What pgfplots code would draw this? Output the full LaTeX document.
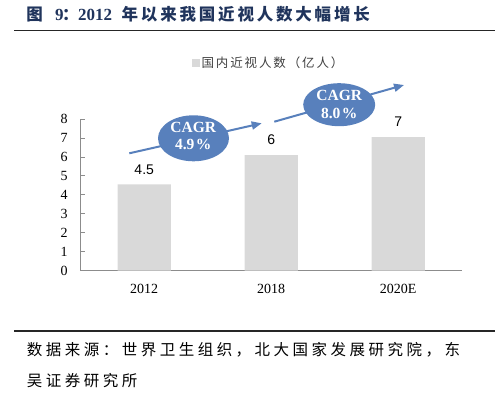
\documentclass[border=0pt]{standalone}
\usepackage{pgfplots}
\pgfplotsset{compat=1.18}
\usepackage{pgfplotstable}
\usepackage{fontspec}
\usetikzlibrary{arrows.meta}
\setmainfont{Liberation Serif}
\setsansfont{Liberation Sans}
\newfontfamily\cjk{Noto Sans CJK SC}
\newfontfamily\cjkt[LetterSpace=17]{Noto Sans CJK SC}
\newfontfamily\cjkf[LetterSpace=22.5]{Noto Sans CJK SC}
\newfontfamily\cjkl[LetterSpace=15]{Noto Sans CJK SC}
\definecolor{barg}{RGB}{217,217,217}
\definecolor{ellblue}{RGB}{88,128,188}
\definecolor{titleblue}{RGB}{32,52,92}
\definecolor{axgray}{RGB}{140,140,140}

\pgfplotstableread{
x y lab
0 4.55 4.5
1 6.10 6
2 7.05 7
}\datatable

\begin{document}
\begin{tikzpicture}[x=1bp,y=1bp]
\useasboundingbox (0bp,0bp) rectangle (500bp,398bp);
% title
\begin{scope}[every node/.style={anchor=base west, inner sep=0pt, text=titleblue}]
\node at (26.2bp,377bp) {\fontsize{16.5bp}{18bp}\selectfont\cjk\bfseries 图};
\node at (55bp,377bp) {\fontsize{17bp}{18bp}\selectfont\rmfamily\bfseries 9};
\node at (62bp,377bp) {\fontsize{16.5bp}{18bp}\selectfont\cjk\bfseries ：};
\node at (78bp,377bp) {\fontsize{17bp}{18bp}\selectfont\rmfamily\bfseries 2012};
\node at (121.5bp,377bp) {\fontsize{16.5bp}{18bp}\selectfont\cjkt\bfseries 年以来我国近视人数大幅增长};
\end{scope}
\draw[line width=1.8bp, black!85] (14bp,367.5bp) -- (495bp,367.5bp);
% footer
\draw[line width=1.8bp, black!85] (14bp,66.8bp) -- (495bp,66.8bp);
\node[anchor=base west, inner sep=0pt] at (26.7bp,42bp)
 {\fontsize{15.5bp}{18bp}\selectfont\cjkf 数据来源：世界卫生组织，北大国家发展研究院，东};
\node[anchor=base west, inner sep=0pt] at (26.7bp,12bp)
 {\fontsize{15.5bp}{18bp}\selectfont\cjkf 吴证券研究所};

\begin{axis}[
  at={(80.7bp,127.3bp)}, anchor=south west,
  scale only axis, width=381bp, height=151.7bp,
  xmin=-0.5, xmax=2.5, ymin=0, ymax=8,
  axis x line*=bottom, axis y line*=left,
  axis line style={axgray, line width=0.8bp, -},
  tick align=inside,
  xtick={0,1,2}, xticklabels={2012,2018,2020E},
  x tick style={draw=none},
  minor xtick={0.5,1.5,2.5},
  minor x tick style={axgray, line width=0.8bp},
  minor tick length=4bp,
  ytick={0,1,...,8},
  y tick style={axgray, line width=0.8bp},
  major tick length=4bp,
  /pgf/number format/assume math mode=true,
  ticklabel style={font=\fontsize{14bp}{14bp}\selectfont\rmfamily},
  yticklabel style={inner sep=0pt, xshift=-13bp},
  xticklabel style={inner sep=0pt, yshift=-13.6bp},
  legend style={draw=none, fill=none, inner sep=0pt, outer sep=0pt,
     at={(axis description cs:0.292,1.369)}, anchor=west,
     font=\fontsize{12.5bp}{14bp}\selectfont\cjkl\color{black!75},
     nodes={inner sep=1.6bp}},
  legend image code/.code={\fill[barg] (0bp,-3.7bp) rectangle (8bp,3.7bp);},
  clip=false,
]
\addplot[ybar, bar width=53.4bp, fill=barg, draw=none,
  point meta=explicit symbolic,
  nodes near coords,
  nodes near coords style={anchor=south, inner sep=0pt, yshift=10bp,
     font=\fontsize{14bp}{14bp}\selectfont\sffamily, text=black}]
  table[x=x, y=y, meta=lab] {\datatable};
\addlegendentry{国内近视人数（亿人）}
\end{axis}

% arrows and CAGR bubbles
\draw[ellblue, line width=2bp, -{Triangle[length=10bp,width=8bp]}] (129.3bp,244.7bp) -- (261.7bp,274.7bp);
\draw[ellblue, line width=2bp, -{Triangle[length=10bp,width=8bp]}] (274.3bp,276.3bp) -- (404bp,313bp);
\fill[ellblue] (193.5bp,259.7bp) ellipse [x radius=35.5bp, y radius=23bp];
\fill[ellblue] (339.2bp,293.3bp) ellipse [x radius=36bp, y radius=21.5bp];
\node[align=center, text=white, inner sep=0pt, font=\fontsize{15.5bp}{17bp}\selectfont\rmfamily\bfseries] at (193.3bp,262.3bp) {CAGR\\4.9\kern1.5bp\%};
\node[align=center, text=white, inner sep=0pt, font=\fontsize{15.5bp}{18bp}\selectfont\rmfamily\bfseries] at (339.2bp,293.8bp) {CAGR\\8.0\kern1.5bp\%};
\end{tikzpicture}
\end{document}
